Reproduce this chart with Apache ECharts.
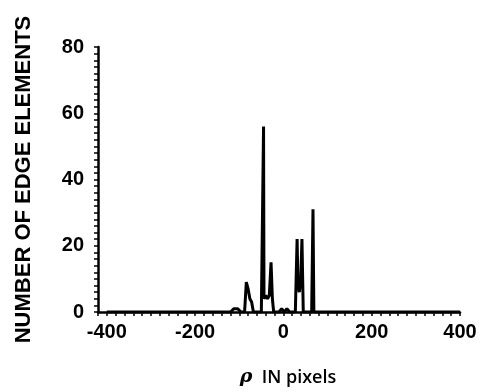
<!DOCTYPE html>
<html>
<head>
<meta charset="utf-8">
<script src="https://cdn.jsdelivr.net/npm/echarts@6/dist/echarts.min.js"></script>
<style>
  html, body { margin: 0; padding: 0; background: #fff; }
  #chart { width: 482px; height: 392px; }
</style>
</head>
<body>
<div id="chart"></div>
<script>
// rho positions (pixels) and edge element counts
const rho = [-400, -120, -112, -104, -96, -88, -84, -80, -76, -72, -68, -50, -46, -45, -44, -40, -36, -32, -28, -25, -22, -10, -4, 2, 8, 14, 27, 31, 33, 36, 39, 42, 45, 64, 67, 69, 72, 120, 400];
const counts = [0, 0, 1, 1, 0, 0, 9, 7, 4, 3, 0, 0, 0, 56, 4, 5, 4, 5, 15, 4, 0, 0, 1, 0, 1, 0, 0, 22, 8, 6, 9, 22, 0, 0, 31, 0, 0, 0, 0];
const xTickLabels = [-400, -200, 0, 200, 400];
const yTickLabels = [0, 20, 40, 60, 80];

const chart = echarts.init(document.getElementById('chart'), null, { renderer: 'canvas' });

const points = rho.map((r, i) => [r, counts[i]]);
const font = '"Liberation Sans", Arial, sans-serif';

chart.setOption({
  animation: false,
  grid: { left: 98, right: 22, top: 47, bottom: 80 },
  xAxis: {
    type: 'value',
    min: -420,
    max: 400,
    interval: 20,
    name: '{r|ρ}  IN pixels',
    nameLocation: 'middle',
    nameGap: 56,
    nameTextStyle: {
      color: '#000', fontSize: 18, fontWeight: 600, fontFamily: '"Open Sans", sans-serif',
      padding: [0, 0, 0, 18],
      rich: { r: { fontStyle: 'italic', fontSize: 19, fontWeight: 600, color: '#000', fontFamily: '"DejaVu Serif", serif' } }
    },
    axisLine: { show: true, onZero: false, lineStyle: { color: '#000', width: 2.5 } },
    axisTick: { show: true, inside: false, length: 4, lineStyle: { color: '#000', width: 1.5 } },
    axisLabel: {
      color: '#000', fontSize: 20, fontWeight: 'bold', fontFamily: font, margin: 10,
      formatter: v => xTickLabels.includes(v) ? String(v) : ''
    },
    splitLine: { show: false }
  },
  yAxis: {
    type: 'value',
    min: 0,
    max: 80,
    interval: 2,
    name: 'NUMBER OF EDGE ELEMENTS',
    nameLocation: 'middle',
    nameGap: 63,
    nameTextStyle: { color: '#000', fontSize: 22, fontWeight: 'bold', fontFamily: font },
    axisLine: { show: true, onZero: false, lineStyle: { color: '#000', width: 2.5 } },
    axisTick: { show: true, inside: false, length: 4, lineStyle: { color: '#000', width: 1.5 } },
    axisLabel: {
      color: '#000', fontSize: 20, fontWeight: 'bold', fontFamily: font, margin: 14,
      formatter: v => yTickLabels.includes(v) ? String(v) : ''
    },
    splitLine: { show: false }
  },
  series: [{
    type: 'line',
    data: points,
    symbol: 'none',
    lineStyle: { color: '#000', width: 3 }
  }]
});
</script>
</body>
</html>
